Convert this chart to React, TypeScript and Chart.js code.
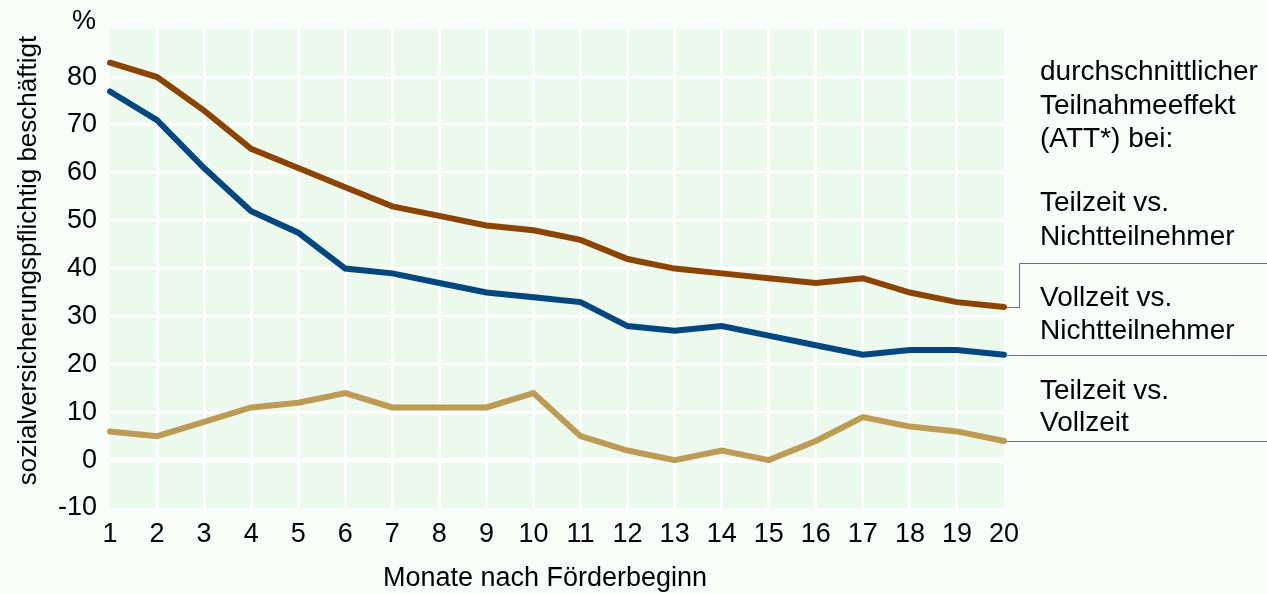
import React, { useEffect, useRef } from 'react';
import { Chart, registerables } from 'chart.js';

Chart.register(...registerables);

const months = ['1', '2', '3', '4', '5', '6', '7', '8', '9', '10', '11', '12', '13', '14', '15', '16', '17', '18', '19', '20'];
const teilzeitVsNichtteilnehmer = [83, 80, 73, 65, 61, 57, 53, 51, 49, 48, 46, 42, 40, 39, 38, 37, 38, 35, 33, 32];
const vollzeitVsNichtteilnehmer = [77, 71, 61, 52, 47.5, 40, 39, 37, 35, 34, 33, 28, 27, 28, 26, 24, 22, 23, 23, 22];
const teilzeitVsVollzeit = [6, 5, 8, 11, 12, 14, 11, 11, 11, 14, 5, 2, 0, 2, 0, 4, 9, 7, 6, 4];

const yMin = -10;
const yMax = 90;
const yStep = 10;

const yAxisTitle = 'sozialversicherungspflichtig beschäftigt';
const xAxisTitle = 'Monate nach Förderbeginn';
const unitLabel = '%';
const legendHeading = ['durchschnittlicher', 'Teilnahmeeffekt', '(ATT*) bei:'];
const legendLabels = [
  ['Teilzeit vs.', 'Nichtteilnehmer'],
  ['Vollzeit vs.', 'Nichtteilnehmer'],
  ['Teilzeit vs.', 'Vollzeit'],
];

const FONT = '"Liberation Sans", Arial, Helvetica, sans-serif';
const PAGE_BG = '#f8fdf9';
const PLOT_BG = '#edf9ec';
const COLORS = ['#8b4400', '#00467f', '#bc9b55'];

const decorPlugin = {
  id: 'decor',
  beforeDraw(chart: any) {
    const { ctx, chartArea } = chart;
    ctx.save();
    ctx.fillStyle = PLOT_BG;
    ctx.fillRect(chartArea.left, chartArea.top, chartArea.right - chartArea.left, chartArea.bottom - chartArea.top);
    ctx.restore();
  },
  afterDraw(chart: any) {
    const { ctx, chartArea, scales } = chart;
    const W = chart.width;
    ctx.save();
    ctx.fillStyle = '#000';

    // unit label
    ctx.font = `27px ${FONT}`;
    ctx.textAlign = 'right';
    ctx.textBaseline = 'alphabetic';
    ctx.fillText(unitLabel, 96, 29);

    // y title
    ctx.save();
    ctx.translate(36, (chartArea.top + chartArea.bottom) / 2 - 8);
    ctx.rotate(-Math.PI / 2);
    ctx.font = `26px ${FONT}`;
    ctx.textAlign = 'center';
    ctx.textBaseline = 'alphabetic';
    ctx.fillText(yAxisTitle, 0, 0);
    ctx.restore();

    // x title
    ctx.font = `27px ${FONT}`;
    ctx.textAlign = 'center';
    ctx.textBaseline = 'alphabetic';
    ctx.fillText(xAxisTitle, 545, 586);

    // legend heading & labels
    ctx.font = `28px ${FONT}`;
    ctx.textAlign = 'left';
    const tx = 1040;
    const headBase = [80, 114, 147];
    legendHeading.forEach((t, i) => ctx.fillText(t, tx, headBase[i]));
    const labelBase = [[211, 245], [306, 339], [399, 431]];
    legendLabels.forEach((lines, i) => {
      lines.forEach((t, j) => ctx.fillText(t, tx, labelBase[i][j]));
    });

    // leader lines
    const y = scales.y;
    const endBrown = y.getPixelForValue(teilzeitVsNichtteilnehmer[teilzeitVsNichtteilnehmer.length - 1]);
    const endBlue = y.getPixelForValue(vollzeitVsNichtteilnehmer[vollzeitVsNichtteilnehmer.length - 1]);
    const endTan = y.getPixelForValue(teilzeitVsVollzeit[teilzeitVsVollzeit.length - 1]);
    const r = chartArea.right + 2;
    const px = (v: number) => Math.round(v) + 0.5;
    ctx.strokeStyle = '#707070';
    ctx.lineWidth = 1;
    ctx.beginPath();
    ctx.moveTo(r, px(endBrown));
    ctx.lineTo(px(1019), px(endBrown));
    ctx.lineTo(px(1019), px(263));
    ctx.lineTo(W, px(263));
    ctx.moveTo(r, px(endBlue));
    ctx.lineTo(W, px(endBlue));
    ctx.moveTo(r, px(endTan));
    ctx.lineTo(W, px(endTan));
    ctx.stroke();
    ctx.restore();
  },
};

export default function App() {
  const canvasRef = useRef<HTMLCanvasElement | null>(null);

  useEffect(() => {
    document.body.style.margin = '0';
    document.body.style.background = PAGE_BG;
    const canvas = canvasRef.current;
    if (!canvas) return;
    const mk = (label: string, data: number[], color: string) => ({
      label,
      data,
      borderColor: color,
      backgroundColor: color,
      borderWidth: 6,
      pointRadius: 0,
      pointHoverRadius: 0,
      tension: 0,
      fill: false,
      borderCapStyle: 'round' as const,
      borderJoinStyle: 'miter' as const,
    });
    const chart = new Chart(canvas, {
      type: 'line',
      data: {
        labels: months,
        datasets: [
          mk(legendLabels[0].join(' '), teilzeitVsNichtteilnehmer, COLORS[0]),
          mk(legendLabels[1].join(' '), vollzeitVsNichtteilnehmer, COLORS[1]),
          mk(legendLabels[2].join(' '), teilzeitVsVollzeit, COLORS[2]),
        ],
      },
      options: {
        responsive: false,
        animation: false,
        devicePixelRatio: 1,
        layout: { padding: { left: 0, right: 263, top: 24, bottom: 0 } },
        plugins: {
          legend: { display: false },
          tooltip: { enabled: false },
        },
        scales: {
          x: {
            type: 'category',
            offset: false,
            border: { display: false },
            grid: {
              drawTicks: false,
              color: (c: any) => (c.index === 0 || c.index === months.length - 1 ? 'rgba(0,0,0,0)' : '#ffffff'),
              lineWidth: 3,
            },
            ticks: {
              autoSkip: false,
              maxRotation: 0,
              minRotation: 0,
              padding: 10,
              color: '#000',
              font: { family: FONT, size: 27 },
            },
            afterFit: (s: any) => {
              s.height = 86;
            },
          },
          y: {
            min: yMin,
            max: yMax,
            border: { display: false },
            grid: {
              drawTicks: false,
              color: (c: any) =>
                c.tick && (c.tick.value === yMin || c.tick.value === yMax) ? 'rgba(0,0,0,0)' : '#ffffff',
              lineWidth: (c: any) => (c.tick && c.tick.value === 0 ? 5 : 3),
            },
            ticks: {
              stepSize: yStep,
              padding: 13,
              labelOffset: 0,
              color: '#000',
              font: { family: FONT, size: 27 },
              callback: (v: any) => (Number(v) === yMax ? '' : String(v)),
            },
            afterFit: (s: any) => {
              s.width = 110;
            },
          },
        },
      },
      plugins: [decorPlugin],
    });
    return () => chart.destroy();
  }, []);

  return (
    <div style={{ width: 1267, height: 594, background: PAGE_BG, position: 'relative' }}>
      <canvas ref={canvasRef} width={1267} height={594} style={{ display: 'block' }} />
    </div>
  );
}
